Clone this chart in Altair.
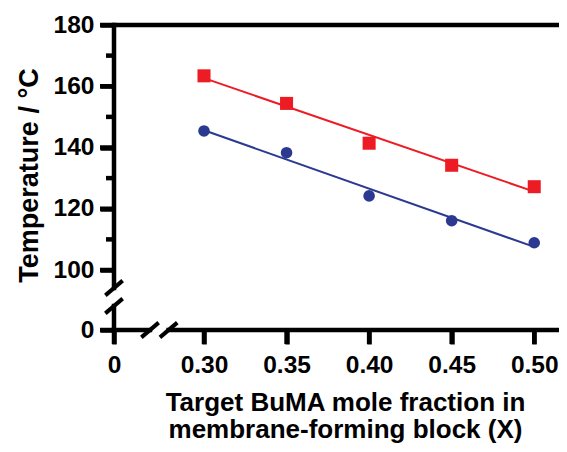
import altair as alt
import pandas as pd

# ---- data ----
fraction = [0.30, 0.35, 0.40, 0.45, 0.50]
temp_red = [163.4, 154.4, 141.4, 134.2, 127.2]   # squares
temp_blue = [145.4, 138.3, 124.2, 116.1, 108.9]  # circles

y_ticks = [0, 100, 120, 140, 160, 180]
y_minor = [110, 130, 150, 170]
x_ticks = [0, 0.30, 0.35, 0.40, 0.45, 0.50]

# axis-break positions (data units)
y_break = [40, 70]
x_break = [0.12, 0.182]
x_max = 0.515
y_max = 180

RED = "#ED1C24"
BLUE = "#2B3990"
INK = "#000000"
FONT = "Liberation Sans"

df = pd.DataFrame({
    "x": fraction * 2,
    "y": temp_red + temp_blue,
    "series": ["red"] * 5 + ["blue"] * 5,
})

xs = alt.Scale(domain=[0, 0.30, x_max], range=[0, 90, 445], nice=False, zero=False)
ys = alt.Scale(domain=[0, 100, y_max], range=[305, 245, 0], nice=False, zero=False)

x_axis = alt.Axis(
    values=x_ticks, domain=False, grid=False, zindex=1,
    labelExpr="datum.value == 0 ? '0' : format(datum.value, '.2f')",
    tickSize=14, tickWidth=4.5, tickColor=INK,
    labelFont=FONT, labelFontSize=24.5, labelFontWeight="bold", labelColor=INK,
    labelPadding=9, labelFlush=False, labelOverlap=False,
    title=["Target BuMA mole fraction in", "membrane-forming block (X)"],
    titleFont=FONT, titleFontSize=26, titleFontWeight="bold", titleColor=INK,
    titleLineHeight=27.5, titleX=231, titleY=80, titleBaseline="alphabetic",
    titleAlign="center",
)
y_axis = alt.Axis(
    values=y_ticks, domain=False, grid=False, zindex=1,
    tickSize=14, tickWidth=4.5, tickColor=INK,
    labelFont=FONT, labelFontSize=24.5, labelFontWeight="bold", labelColor=INK,
    labelPadding=6, labelFlush=False, labelOverlap=False,
    title="Temperature / °C",
    titleFont=FONT, titleFontSize=27, titleFontWeight="bold", titleColor=INK,
    titleX=-77, titleY=150, titleBaseline="alphabetic", titleAngle=-90,
    titleAlign="center",
)

X = alt.X("x:Q", scale=xs, axis=x_axis)
Y = alt.Y("y:Q", scale=ys, axis=y_axis)

color = alt.Color("series:N", scale=alt.Scale(domain=["red", "blue"], range=[RED, BLUE]), legend=None)

base = alt.Chart(df)

lines = base.transform_regression("x", "y", groupby=["series"]).mark_line(strokeWidth=2).encode(
    x=X, y=Y, color=color
)
squares = base.transform_filter("datum.series == 'red'").mark_point(
    shape="square", filled=True, size=170, opacity=1, color=RED
).encode(x=X, y=Y)
circles = base.transform_filter("datum.series == 'blue'").mark_point(
    shape="circle", filled=True, size=135, opacity=1, color=BLUE
).encode(x=X, y=Y)

# axis lines with breaks
ylines = pd.DataFrame({"x": [0, 0], "y": [0, y_break[1]], "y2": [y_break[0], y_max]})
xlines = pd.DataFrame({"x": [0, x_break[1]], "x2": [x_break[0], x_max], "y": [0, 0]})

yaxis_line = alt.Chart(ylines).mark_rule(strokeWidth=4.5, color=INK, strokeCap="square", clip=False).encode(
    x=alt.X("x:Q", scale=xs), y=alt.Y("y:Q", scale=ys), y2="y2:Q"
)
xaxis_line = alt.Chart(xlines).mark_rule(strokeWidth=4.5, color=INK, strokeCap="square", clip=False).encode(
    x=alt.X("x:Q", scale=xs), x2="x2:Q", y=alt.Y("y:Q", scale=ys)
)
top_line = alt.Chart(pd.DataFrame({"y": [y_max]})).mark_rule(strokeWidth=4.5, color=INK, clip=False).encode(
    y=alt.Y("y:Q", scale=ys)
)

# tick marks drawn as short path symbols anchored on the axes
def tick_layer(xv, yv, path, size):
    d = pd.DataFrame({"x": xv, "y": yv})
    return alt.Chart(d).mark_point(
        shape=path, size=size, filled=False, stroke=INK,
        strokeWidth=4.5, opacity=1, strokeCap="butt", clip=False
    ).encode(x=alt.X("x:Q", scale=xs), y=alt.Y("y:Q", scale=ys))

ymajor = tick_layer([0] * len(y_ticks), y_ticks, "M -2 0 L 0 0", 196)
yminor = tick_layer([0] * len(y_minor), y_minor, "M -2 0 L 0 0", 64)
xmajor = tick_layer(x_ticks, [0] * len(x_ticks), "M 0 0 L 0 2", 196)

slashes = pd.DataFrame({
    "x": [0, 0, x_break[0], x_break[1]],
    "y": [y_break[0], y_break[1], 0, 0],
})
slash_marks = alt.Chart(slashes).mark_point(
    shape="M -1 0.85 L 1 -0.85", size=300, filled=False, stroke=INK,
    strokeWidth=4, opacity=1, clip=False
).encode(x=alt.X("x:Q", scale=xs), y=alt.Y("y:Q", scale=ys))

chart = alt.layer(
    lines, squares, circles, yaxis_line, xaxis_line, top_line,
    ymajor, yminor, xmajor, slash_marks
).properties(
    width=445, height=305,
    autosize=alt.AutoSizeParams(type="none"),
    padding={"left": 106, "top": 17, "right": 0, "bottom": 114},
    background="white",
).configure_view(stroke=None)

chart.save("out.html", embed_options={"renderer": "svg", "actions": False})
